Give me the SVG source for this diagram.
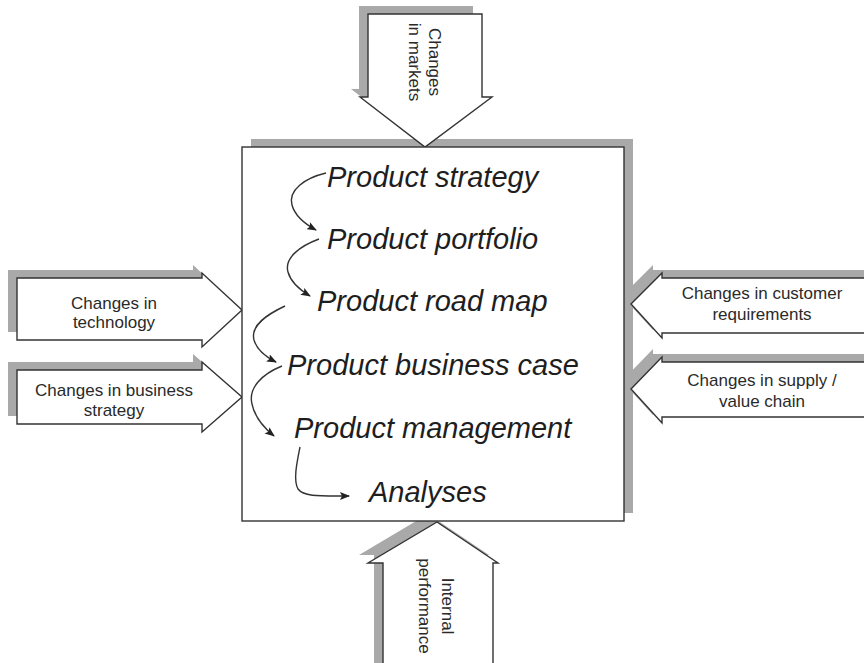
<svg xmlns="http://www.w3.org/2000/svg" width="864" height="663" viewBox="0 0 864 663">
  <style>
    .shadow { fill: #a9a9a9; stroke: none; }
    .block { fill: #ffffff; stroke: #333333; stroke-width: 1.4; stroke-linejoin: miter; }
    .label { font-family: "Liberation Sans", Arial, sans-serif; font-size: 17px; fill: #2a2a2a; text-anchor: middle; }
    .step { font-family: "Liberation Sans", Arial, sans-serif; font-size: 29px; font-style: italic; fill: #1e1e1e; }
    .flow { fill: none; stroke: #333333; stroke-width: 1.4; marker-end: url(#head); }
  </style>
  <defs>
    <marker id="head" viewBox="0 0 10 8" refX="9" refY="4" markerWidth="10" markerHeight="8" markerUnits="userSpaceOnUse" orient="auto">
      <path d="M0,0 L10,4 L0,8 L2,4 z" fill="#222222"/>
    </marker>
  </defs>

  <!-- drop shadows of the influence arrows -->
  <g id="shadows">
    <polygon class="shadow" points="359,6 473,6 473,89 483,89 416,139 351,89 359,89"/>
    <polygon class="shadow" points="8,270 193,270 193,265 233,302 193,339 193,332 8,332"/>
    <polygon class="shadow" points="8,362 193,362 193,354 233,389 193,424 193,416 8,416"/>
    <polygon class="shadow" points="622,296 653,265 653,270 870,270 870,325 653,325 653,330"/>
    <polygon class="shadow" points="622,381 653,349 653,354 870,354 870,409 653,409 653,415"/>
    <polygon class="shadow" points="428,514 489,555 484,555 484,663 374,663 374,555 359,555"/>
  </g>

  <!-- central process box -->
  <g id="process-box">
    <rect class="shadow" x="251" y="139" width="382" height="374"/>
  </g>

  <!-- influence arrows -->
  <g id="markets">
    <polygon class="block" points="368,14 482,14 482,97 492,97 425,147 360,97 368,97"/>
    <text class="label" transform="translate(435,62) rotate(90)" dy="6">Changes</text>
    <text class="label" transform="translate(415,62) rotate(90)" dy="6">in markets</text>
  </g>
  <g id="technology">
    <polygon class="block" points="17,278 202,278 202,273 242,310 202,347 202,340 17,340"/>
    <text class="label" x="114" y="309">Changes in</text>
    <text class="label" x="114" y="328">technology</text>
  </g>
  <g id="business-strategy">
    <polygon class="block" points="17,370 202,370 202,362 242,397 202,432 202,424 17,424"/>
    <text class="label" x="114" y="396">Changes in business</text>
    <text class="label" x="114" y="416">strategy</text>
  </g>
  <g id="customer-requirements">
    <polygon class="block" points="631,304 662,273 662,278 870,278 870,333 662,333 662,338"/>
    <text class="label" x="762" y="299">Changes in customer</text>
    <text class="label" x="762" y="320">requirements</text>
  </g>
  <g id="supply-chain">
    <polygon class="block" points="631,389 662,357 662,362 870,362 870,417 662,417 662,423"/>
    <text class="label" x="762" y="386">Changes in supply /</text>
    <text class="label" x="762" y="407">value chain</text>
  </g>
  <g id="internal-performance">
    <polygon class="block" points="437,522 498,563 493,563 493,670 383,670 383,563 368,563"/>
    <text class="label" transform="translate(448,606) rotate(90)" dy="6">Internal</text>
    <text class="label" transform="translate(425,606) rotate(90)" dy="6">performance</text>
  </g>

  <g id="box">
    <rect class="block" x="242" y="147" width="382" height="374"/>
  </g>

  <!-- process steps -->
  <g id="step-strategy"><text class="step" x="327" y="187">Product strategy</text></g>
  <g id="step-portfolio"><text class="step" x="327" y="249">Product portfolio</text></g>
  <g id="step-roadmap"><text class="step" x="317" y="311">Product road map</text></g>
  <g id="step-business-case"><text class="step" x="287" y="375">Product business case</text></g>
  <g id="step-management"><text class="step" x="294" y="438">Product management</text></g>
  <g id="step-analyses"><text class="step" x="369" y="502">Analyses</text></g>

  <!-- sequence connectors -->
  <g id="connectors">
    <path class="flow" d="M326,173 C305,178 288,190 292,205 C295,216 305,224 316,230"/>
    <path class="flow" d="M319,239 C300,246 284,258 288,272 C291,283 300,290 310,296"/>
    <path class="flow" d="M285,306 C268,314 250,325 254,340 C257,350 266,357 276,362"/>
    <path class="flow" d="M282,366 C262,374 248,388 252,404 C255,418 264,428 274,436"/>
    <path class="flow" d="M300,447 C297,462 293,480 298,489 C304,497 320,496 349,496"/>
  </g>
</svg>
